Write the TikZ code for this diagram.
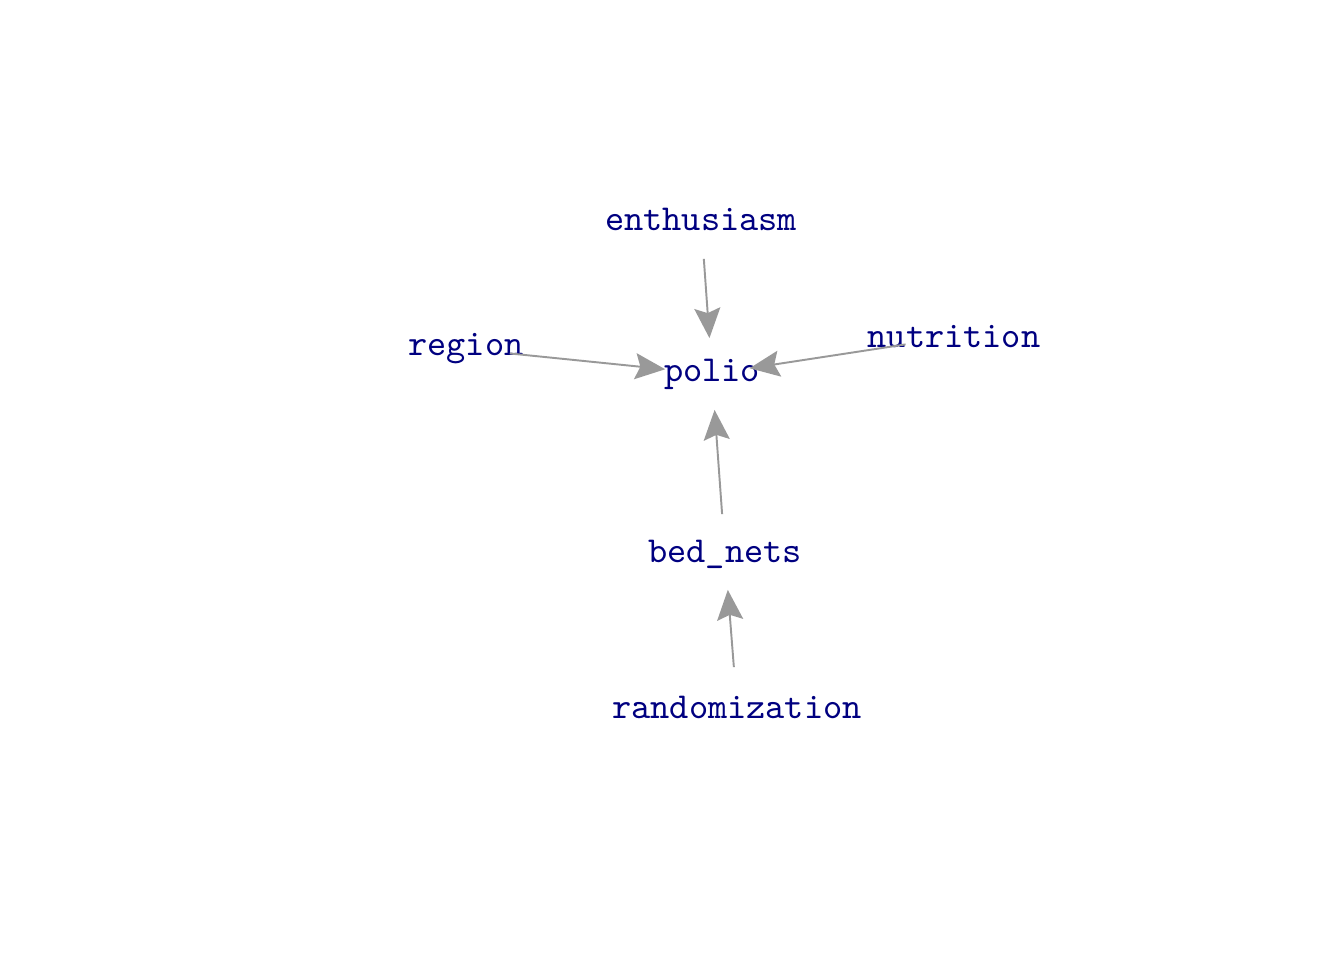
\documentclass[tikz,border=0pt]{standalone}
\usepackage{fontspec}
\usetikzlibrary{arrows.meta}

\definecolor{varnavy}{HTML}{000080}
\definecolor{edgegray}{HTML}{999999}

\begin{document}
\begin{tikzpicture}[
  var/.style={text=varnavy,font=\ttfamily\fontsize{10.4}{12}\selectfont,inner sep=0pt},
  edge/.style={draw=edgegray,line width=0.55pt,-{Stealth[length=0.3cm,width=0.26cm,inset=0.05cm]},shorten <=0.4cm,shorten >=0.36cm}
]
\useasboundingbox (0,0) rectangle (13.44,9.6);

% Variables
\node[var] (enthusiasm) at (7.01,7.41) {enthusiasm};
\node[var] (region) at (4.66,6.11) {region};
\node[var] (polio) at (7.12,5.86) {polio};
\node[var] (nutrition) at (9.54,6.23) {nutrition};
\node[var] (bednets) at (7.25,4.06) {bed\_nets};
\node[var] (randomization) at (7.37,2.53) {randomization};

% Edges
\draw[edge] (enthusiasm.center) -- (polio.center);
\draw[edge,shorten <=0.44cm,shorten >=0.47cm] (region.center) -- (polio.center);
\draw[edge,shorten <=0.49cm,shorten >=0.38cm] (nutrition.center) -- (polio.center);
\draw[edge] (bednets.center) -- (polio.center);
\draw[edge] (randomization.center) -- (bednets.center);
\end{tikzpicture}
\end{document}
